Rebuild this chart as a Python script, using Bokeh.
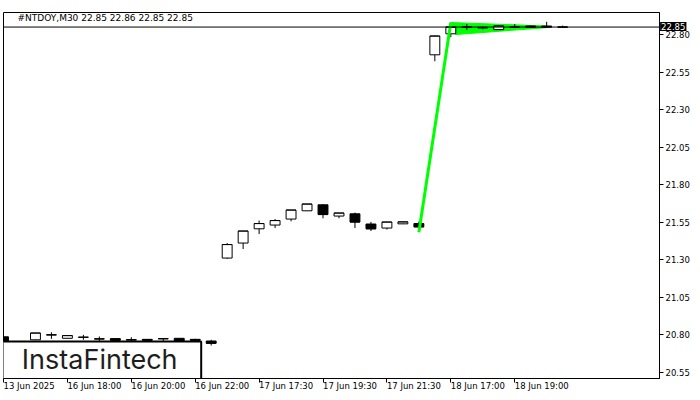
from bokeh.plotting import figure
from bokeh.models import FixedTicker, Span, Label, NumeralTickFormatter
from bokeh.core.properties import value
from bokeh.embed import file_html
from bokeh.resources import INLINE

# ---- data (M30 bars, x = bar index) ----
bar_index = list(range(36))
opens = [20.785, 20.74, 20.765, 20.798, 20.775, 20.782, 20.771, 20.773, 20.766, 20.768, 20.773, 20.775, 20.768, 20.757,
         21.31, 21.41, 21.505, 21.53, 21.57, 21.625, 21.665, 21.59, 21.605, 21.537, 21.51, 21.538, 21.54,
         22.665, 22.805, 22.85, 22.848, 22.833, 22.85, 22.857, 22.857, 22.85]
highs = [20.79, 20.75, 20.81, 20.815, 20.793, 20.798, 20.787, 20.777, 20.782, 20.77, 20.774, 20.777, 20.772, 20.765,
         21.41, 21.49, 21.56, 21.57, 21.63, 21.67, 21.67, 21.61, 21.613, 21.551, 21.55, 21.551, 21.553,
         22.793, 22.853, 22.87, 22.853, 22.857, 22.87, 22.86, 22.885, 22.86]
lows = [20.755, 20.72, 20.765, 20.771, 20.775, 20.765, 20.753, 20.755, 20.755, 20.755, 20.755, 20.75, 20.755, 20.727,
        21.305, 21.37, 21.47, 21.51, 21.555, 21.625, 21.575, 21.575, 21.51, 21.49, 21.50, 21.538, 21.50,
        22.622, 22.782, 22.83, 22.835, 22.833, 22.848, 22.85, 22.848, 22.85]
closes = [20.76, 20.73, 20.81, 20.798, 20.793, 20.782, 20.771, 20.762, 20.764, 20.762, 20.772, 20.755, 20.762, 20.742,
          21.40, 21.49, 21.54, 21.56, 21.63, 21.67, 21.60, 21.61, 21.55, 21.505, 21.55, 21.551, 21.518,
          22.79, 22.85, 22.85, 22.845, 22.857, 22.849, 22.85, 22.85, 22.85]

tick_bars = [0, 4, 8, 12, 16, 20, 24, 28, 32]
tick_labels = ["13 Jun 2025", "16 Jun 18:00", "16 Jun 20:00", "16 Jun 22:00", "17 Jun 17:30",
               "17 Jun 19:30", "17 Jun 21:30", "18 Jun 17:00", "18 Jun 19:00"]
price_ticks = [20.55, 20.80, 21.05, 21.30, 21.55, 21.80, 22.05, 22.30, 22.55, 22.80]
current_price = 22.85
title_text = "#NTDOY,M30  22.85 22.86 22.85 22.85"

# flag pattern (pole + flag)
pole_x = [26, 28]
pole_y = [21.482, 22.88]
flag_x = [28, 34, 34, 28.3]
flag_y = [22.88, 22.857, 22.846, 22.80]

FONT = "DejaVu Sans"
BODY_W = 0.62

p = figure(width=692, height=398, x_range=(0, 41.0625), y_range=(20.507, 22.947),
           y_axis_location="right", x_axis_location="below",
           output_backend="svg", toolbar_location=None,
           min_border_left=3, min_border_top=12, min_border_right=32, min_border_bottom=20)
p.grid.visible = False
p.outline_line_color = "black"
p.outline_line_alpha = 1
p.outline_line_width = 1
p.background_fill_color = "white"
p.border_fill_color = "white"

# axes
for ax in (p.xaxis[0], p.yaxis[0]):
    ax.axis_line_color = "black"
    ax.major_tick_line_color = "black"
    ax.major_tick_out = 4
    ax.major_tick_in = 0
    ax.minor_tick_line_color = None
    ax.major_label_text_font = FONT
    ax.major_label_text_font_size = "8.5px"
    ax.major_label_text_color = "black"

p.xaxis.ticker = FixedTicker(ticks=tick_bars)
p.xaxis.major_label_overrides = {b: l for b, l in zip(tick_bars, tick_labels)}
p.xaxis.major_label_orientation = -1e-4
p.xaxis.major_label_standoff = 3
p.yaxis.ticker = FixedTicker(ticks=price_ticks)
p.yaxis.formatter = NumeralTickFormatter(format="0.00")
p.yaxis.major_label_standoff = 2

# flag fill (under candles)
p.patch(flag_x, flag_y, fill_color="#00ff00", line_color="#00ff00", line_width=1)

# candles
up = [c >= o for o, c in zip(opens, closes)]
tops = [max(o, c) for o, c in zip(opens, closes)]
bottoms = [min(o, c) for o, c in zip(opens, closes)]
fills = ["white" if u else "black" for u in up]
p.segment(x0=bar_index, y0=lows, x1=bar_index, y1=highs, line_color="black", line_width=1)
p.vbar(x=bar_index, width=BODY_W, top=tops, bottom=bottoms, fill_color=fills,
       line_color="black", line_width=1)
p.segment(x0=[i - BODY_W / 2 for i in bar_index], y0=closes,
          x1=[i + BODY_W / 2 for i in bar_index], y1=closes, line_color="black", line_width=1)

# pole line
p.line(pole_x, pole_y, line_color="#00ff00", line_width=3)

# current price line
p.add_layout(Span(location=current_price, dimension="width", line_color="black", line_width=1))

# title text
p.text(x=[0.875], y=[22.945], text=[title_text], text_font=value(FONT), text_font_size="9px",
       text_baseline="top", text_align="left", text_color="black")

# logo
p.quad(left=[-1], right=[12.375], bottom=[20.4], top=[20.753], fill_color="white",
       line_color="black", line_width=2)
p.text(x=[1.15], y=[20.632], text=["InstaFintech"], text_font=value("Inter"), text_font_size="27px",
       text_baseline="middle", text_align="left", text_color="#1e1e1e")

# current price box on the price axis side (placed in the top panel, drawn over the axis)
p.add_layout(Label(x=41.1, y=-14, x_units="data", y_units="screen", text=f"{current_price:.2f}",
                   text_color="white", text_font=FONT, text_font_size="8.5px", text_baseline="middle",
                   background_fill_color="black", padding=1), "above")

open("out.html", "w").write(file_html(p, INLINE))
